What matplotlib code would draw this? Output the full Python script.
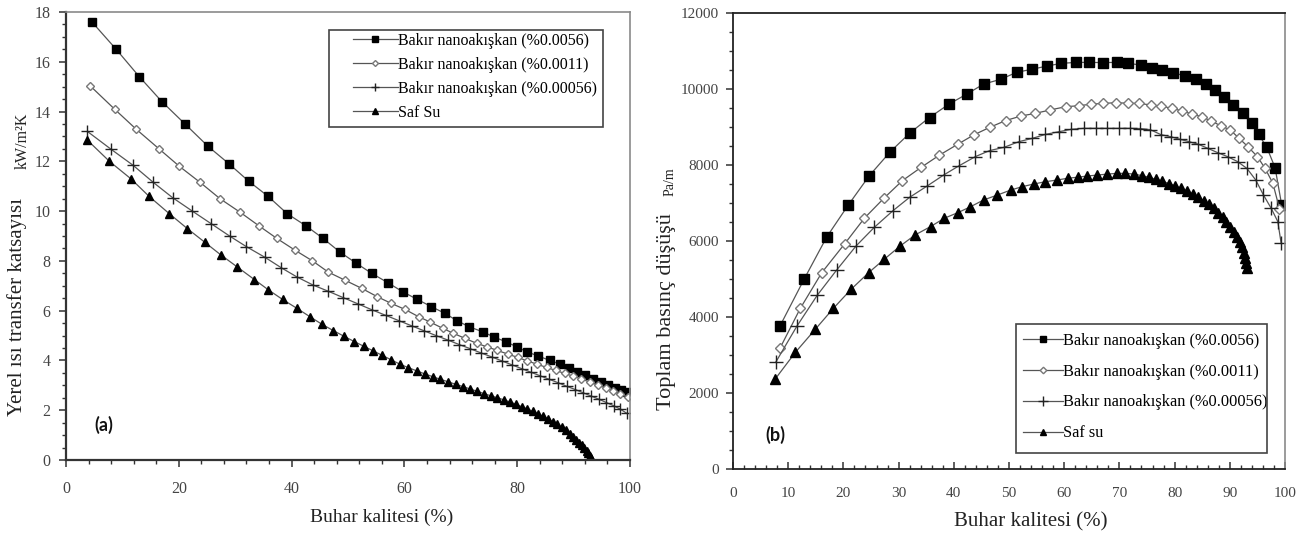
import matplotlib
matplotlib.use("Agg")
import matplotlib.pyplot as plt
from matplotlib.ticker import MultipleLocator
from matplotlib.patches import Rectangle

# ---------------- data: panel (a) heat transfer coefficient ----------------
a_sq_x = [4.6, 8.9, 13.0, 17.0, 21.1, 25.2, 28.9, 32.4, 35.8, 39.2, 42.6, 45.6, 48.6, 51.5,
          54.2, 57.1, 59.7, 62.3, 64.8, 67.2, 69.3, 71.5, 73.9, 75.8, 78.0, 79.9, 81.7, 83.7,
          85.8, 87.5, 89.1, 90.6, 92.0, 93.4, 94.8, 96.1, 97.3, 98.4, 99.4]
a_sq_y = [17.6, 16.5, 15.4, 14.4, 13.5, 12.6, 11.9, 11.2, 10.6, 9.9, 9.4, 8.9, 8.35, 7.9,
          7.5, 7.12, 6.76, 6.45, 6.16, 5.89, 5.6, 5.35, 5.15, 4.95, 4.75, 4.55, 4.35, 4.18,
          4.0, 3.86, 3.71, 3.55, 3.4, 3.27, 3.14, 3.02, 2.91, 2.82, 2.74]

a_di_x = [4.3, 8.6, 12.4, 16.5, 20.1, 23.8, 27.3, 30.9, 34.2, 37.4, 40.6, 43.7, 46.5, 49.5,
          52.4, 55.2, 57.6, 60.1, 62.5, 64.5, 66.8, 68.7, 70.7, 72.8, 74.6, 76.5, 78.3, 80.1,
          81.8, 83.5, 85.2, 86.8, 88.4, 89.9, 91.4, 92.9, 94.3, 95.7, 97.0, 98.3, 99.6]
a_di_y = [15.03, 14.1, 13.3, 12.5, 11.8, 11.15, 10.5, 9.95, 9.41, 8.9, 8.43, 8.0, 7.55, 7.22,
          6.9, 6.56, 6.3, 6.05, 5.76, 5.55, 5.29, 5.09, 4.89, 4.69, 4.55, 4.4, 4.26, 4.12,
          3.98, 3.85, 3.72, 3.6, 3.48, 3.37, 3.25, 3.13, 3.01, 2.9, 2.79, 2.67, 2.52]

a_pl_x = [3.8, 7.9, 11.9, 15.5, 18.9, 22.4, 25.7, 29.0, 32.0, 35.3, 38.2, 40.9, 43.8, 46.5,
          49.2, 51.8, 54.3, 56.7, 59.0, 61.3, 63.5, 65.6, 67.7, 69.7, 71.7, 73.6, 75.5, 77.3,
          79.1, 80.8, 82.5, 84.1, 85.7, 87.3, 88.8, 90.3, 91.7, 93.1, 94.5, 95.8, 97.1, 98.3, 99.4]
a_pl_y = [13.2, 12.5, 11.84, 11.15, 10.54, 10.0, 9.5, 9.0, 8.57, 8.14, 7.72, 7.36, 7.03, 6.78,
          6.52, 6.27, 6.03, 5.81, 5.6, 5.39, 5.19, 5.0, 4.82, 4.64, 4.47, 4.3, 4.14, 3.98,
          3.82, 3.67, 3.52, 3.38, 3.24, 3.1, 2.96, 2.83, 2.7, 2.57, 2.44, 2.31, 2.18, 2.04, 1.88]

a_tr_x = [3.8, 7.7, 11.5, 14.7, 18.3, 21.5, 24.6, 27.4, 30.4, 33.4, 35.8, 38.4, 40.9, 43.3,
          45.4, 47.4, 49.3, 51.1, 52.8, 54.5, 56.1, 57.7, 59.2, 60.7, 62.2, 63.6, 65.0, 66.4,
          67.8, 69.1, 70.4, 71.7, 72.9, 74.1, 75.3, 76.5, 77.6, 78.7, 79.8, 80.8, 81.8, 82.8,
          83.7, 84.6, 85.5, 86.3, 87.1, 87.9, 88.6, 89.3, 89.9, 90.5, 91.0, 91.5, 91.9, 92.3,
          92.6, 92.9, 93.1]
a_tr_y = [12.85, 12.0, 11.3, 10.6, 9.9, 9.3, 8.75, 8.25, 7.75, 7.25, 6.85, 6.45, 6.1, 5.75,
          5.45, 5.2, 4.97, 4.76, 4.57, 4.38, 4.2, 4.02, 3.85, 3.71, 3.58, 3.46, 3.35, 3.24,
          3.14, 3.04, 2.95, 2.85, 2.76, 2.67, 2.58, 2.5, 2.42, 2.33, 2.24, 2.14, 2.05, 1.95,
          1.85, 1.75, 1.65, 1.54, 1.43, 1.31, 1.19, 1.06, 0.94, 0.82, 0.7, 0.59, 0.48, 0.37,
          0.27, 0.17, 0.08]

# ---------------- data: panel (b) total pressure drop ----------------
b_sq_x = [8.5, 12.9, 17.0, 20.9, 24.7, 28.5, 32.1, 35.6, 39.1, 42.4, 45.4, 48.5, 51.4, 54.2,
          56.9, 59.5, 62.1, 64.5, 67.0, 69.5, 71.6, 73.9, 75.9, 77.8, 79.8, 81.9, 83.8, 85.7,
          87.3, 88.9, 90.6, 92.4, 94.0, 95.2, 96.7, 98.2, 99.4]
b_sq_y = [3760, 5000, 6110, 6950, 7720, 8350, 8850, 9250, 9600, 9870, 10130, 10255, 10440, 10520,
          10605, 10675, 10700, 10700, 10695, 10700, 10675, 10630, 10545, 10500, 10430, 10340, 10255, 10120,
          9975, 9780, 9580, 9360, 9100, 8810, 8465, 7930, 6950]

b_di_x = [8.5, 12.2, 16.1, 20.2, 23.8, 27.3, 30.7, 34.1, 37.4, 40.7, 43.6, 46.5, 49.4, 52.2,
          54.8, 57.5, 60.3, 62.7, 64.8, 67.1, 69.3, 71.5, 73.6, 75.7, 77.5, 79.6, 81.4, 83.2,
          84.9, 86.6, 88.4, 90.1, 91.7, 93.3, 95.0, 96.4, 97.8, 99.0]
b_di_y = [3175, 4230, 5170, 5920, 6600, 7120, 7590, 7940, 8260, 8545, 8790, 8990, 9170, 9290,
          9360, 9450, 9535, 9560, 9600, 9620, 9640, 9625, 9620, 9580, 9550, 9490, 9420, 9340,
          9270, 9160, 9030, 8920, 8700, 8480, 8220, 7910, 7520, 6850]

b_pl_x = [7.8, 11.6, 15.3, 18.8, 22.3, 25.6, 29.0, 32.0, 35.2, 38.2, 40.9, 43.9, 46.5, 49.1,
          51.8, 54.2, 56.6, 59.0, 61.3, 63.6, 65.7, 67.8, 69.9, 71.9, 73.7, 75.6, 77.5, 79.3,
          81.0, 82.6, 84.3, 86.0, 87.8, 89.6, 91.4, 93.1, 94.7, 96.1, 97.5, 98.7, 99.3]
b_pl_y = [2825, 3765, 4580, 5240, 5870, 6360, 6800, 7150, 7450, 7740, 7975, 8220, 8380, 8465,
          8615, 8700, 8805, 8875, 8940, 8965, 8965, 8965, 8965, 8965, 8960, 8930, 8800, 8745,
          8675, 8615, 8545, 8440, 8325, 8220, 8090, 7910, 7605, 7210, 6860, 6510, 5940]

b_tr_x = [7.6, 11.3, 14.9, 18.2, 21.4, 24.6, 27.4, 30.3, 33.0, 35.8, 38.3, 40.8, 43.0, 45.4,
          47.9, 50.3, 52.4, 54.5, 56.6, 58.7, 60.6, 62.5, 64.2, 66.0, 67.8, 69.5, 71.1, 72.7,
          74.1, 75.4, 76.6, 77.8, 79.0, 80.1, 81.2, 82.3, 83.3, 84.3, 85.3, 86.2, 87.1, 87.9,
          88.7, 89.4, 90.1, 90.7, 91.3, 91.8, 92.2, 92.5, 92.8, 93.0, 93.1]
b_tr_y = [2360, 3070, 3675, 4230, 4730, 5170, 5520, 5870, 6160, 6380, 6600, 6750, 6900, 7080,
          7210, 7340, 7430, 7500, 7560, 7605, 7650, 7680, 7710, 7735, 7760, 7780, 7780, 7760,
          7720, 7675, 7625, 7570, 7510, 7450, 7385, 7310, 7235, 7150, 7060, 6965, 6860, 6750,
          6630, 6505, 6375, 6245, 6110, 5970, 5830, 5690, 5540, 5410, 5280]

labels_a = ["Bakır nanoakışkan (%0.0056)", "Bakır nanoakışkan (%0.0011)",
            "Bakır nanoakışkan (%0.00056)", "Saf Su"]
labels_b = ["Bakır nanoakışkan (%0.0056)", "Bakır nanoakışkan (%0.0011)",
            "Bakır nanoakışkan (%0.00056)", "Saf su"]

# ---------------- figure ----------------
W, H = 1305, 539
plt.rcParams['font.family'] = ['Liberation Serif', 'DejaVu Serif']
fig = plt.figure(figsize=(W / 100, H / 100), dpi=100)


def box(l, r, t, b):
    return [l / W, 1 - b / H, (r - l) / W, (b - t) / H]


ax1 = fig.add_axes(box(66, 630, 12, 460))
ax2 = fig.add_axes(box(733, 1285, 13, 469))

LC = '#555555'


def draw(ax, data, labels, scale):
    (sx, sy), (dx, dy), (px, py), (tx, ty) = data
    ax.plot(sx, sy, '-', color=LC, lw=0.9, marker='s', ms=6 * scale, mfc='black',
            mec='black', label=labels[0])
    ax.plot(dx, dy, '-', color=LC, lw=0.9, marker='D', ms=4.3 * scale, mfc='white',
            mec='#777777', mew=1.0, label=labels[1])
    ax.plot(px, py, '-', color=LC, lw=0.9, marker='+', ms=9 * scale, mec='#222222',
            mew=1.0, label=labels[2])
    ax.plot(tx, ty, '-', color=LC, lw=0.9, marker='^', ms=6 * scale, mfc='black',
            mec='black', label=labels[3])


draw(ax1, [(a_sq_x, a_sq_y), (a_di_x, a_di_y), (a_pl_x, a_pl_y), (a_tr_x, a_tr_y)], labels_a, 1.0)
draw(ax2, [(b_sq_x, b_sq_y), (b_di_x, b_di_y), (b_pl_x, b_pl_y), (b_tr_x, b_tr_y)], labels_b, 1.1)

# axes (a)
ax1.set_xlim(0, 100)
ax1.set_ylim(0, 18)
ax1.xaxis.set_major_locator(MultipleLocator(20))
ax1.xaxis.set_minor_locator(MultipleLocator(4))
ax1.yaxis.set_major_locator(MultipleLocator(2))
ax1.yaxis.set_minor_locator(MultipleLocator(0.5))
ax1.tick_params(which='both', direction='out', colors='#333333', labelcolor='#444444',
                labelsize=11.5)
ax1.tick_params(which='major', length=5, width=1.1)
ax1.tick_params(which='minor', length=3, width=1.0)
ax1.tick_params(axis='x', pad=10)
ax1.tick_params(axis='y', pad=6)
for s in ['left', 'bottom']:
    ax1.spines[s].set_linewidth(1.6)
    ax1.spines[s].set_color('#333333')
for s in ['top', 'right']:
    ax1.spines[s].set_linewidth(1.2)
    ax1.spines[s].set_color('#8a8a8a')

# axes (b)
ax2.set_xlim(0, 100)
ax2.set_ylim(0, 12000)
ax2.xaxis.set_major_locator(MultipleLocator(10))
ax2.xaxis.set_minor_locator(MultipleLocator(2))
ax2.yaxis.set_major_locator(MultipleLocator(2000))
ax2.yaxis.set_minor_locator(MultipleLocator(500))
ax2.tick_params(which='both', colors='#333333', labelcolor='#444444', labelsize=11)
ax2.tick_params(axis='y', which='both', direction='out', pad=5)
ax2.tick_params(axis='x', which='both', direction='in', pad=13)
ax2.tick_params(which='major', length=5, width=1.1)
ax2.tick_params(which='minor', length=3, width=1.0)
for s in ['left', 'bottom', 'top']:
    ax2.spines[s].set_linewidth(1.3)
    ax2.spines[s].set_color('#222222')
ax2.spines['right'].set_linewidth(1.2)
ax2.spines['right'].set_color('#8a8a8a')

# legends (frameless legend + drawn frame for exact placement)
leg1 = ax1.legend(loc='upper left', bbox_to_anchor=(353 / W, 1 - 33 / H),
                  bbox_transform=fig.transFigure, borderaxespad=0, borderpad=0,
                  fontsize=11.5, frameon=False, handlelength=2.8, handletextpad=0.0,
                  labelspacing=0.5, markerscale=0.7)
fig.add_artist(Rectangle((329 / W, 1 - 127 / H), (603 - 329) / W, (127 - 30) / H,
                         transform=fig.transFigure, fill=False, ec='#444444', lw=1.2))

leg2 = ax2.legend(loc='upper left', bbox_to_anchor=(1023 / W, 1 - 333 / H),
                  bbox_transform=fig.transFigure, borderaxespad=0, borderpad=0,
                  fontsize=11.8, frameon=False, handlelength=2.45, handletextpad=0.0,
                  labelspacing=0.9, markerscale=0.7)
fig.add_artist(Rectangle((1016 / W, 1 - 453 / H), (1267 - 1016) / W, (453 - 324) / H,
                         transform=fig.transFigure, fill=False, ec='#444444', lw=1.2))

# axis titles
TC = '#222222'
fig.text(17 / W, 1 - 307 / H, "Yerel ısı transfer katsayısı", rotation=90, ha='center',
         va='center', fontsize=15, color=TC)
fig.text(23 / W, 1 - 141 / H, "kW/m²K", rotation=90, ha='center', va='center',
         fontsize=11.5, color=TC)
fig.text(382 / W, 1 - 517 / H, "Buhar kalitesi (%)", ha='center', va='center',
         fontsize=14, color=TC)

fig.text(667 / W, 1 - 312 / H, "Toplam basınç düşüşü", rotation=90, ha='center',
         va='center', fontsize=16, color=TC)
fig.text(670 / W, 1 - 182 / H, "Pa/m", rotation=90, ha='center', va='center',
         fontsize=10, color=TC)
fig.text(1031 / W, 1 - 522 / H, "Buhar kalitesi (%)", ha='center', va='center',
         fontsize=15, color=TC)

# panel tags
fig.text(104 / W, 1 - 425 / H, "(a)", ha='center', va='center', fontsize=13,
         fontweight='bold', family=['Lato', 'Open Sans', 'DejaVu Sans'], color='#111111')
fig.text(775 / W, 1 - 435 / H, "(b)", ha='center', va='center', fontsize=13,
         fontweight='bold', family=['Lato', 'Open Sans', 'DejaVu Sans'], color='#111111')

fig.savefig("out.png", dpi=100)
